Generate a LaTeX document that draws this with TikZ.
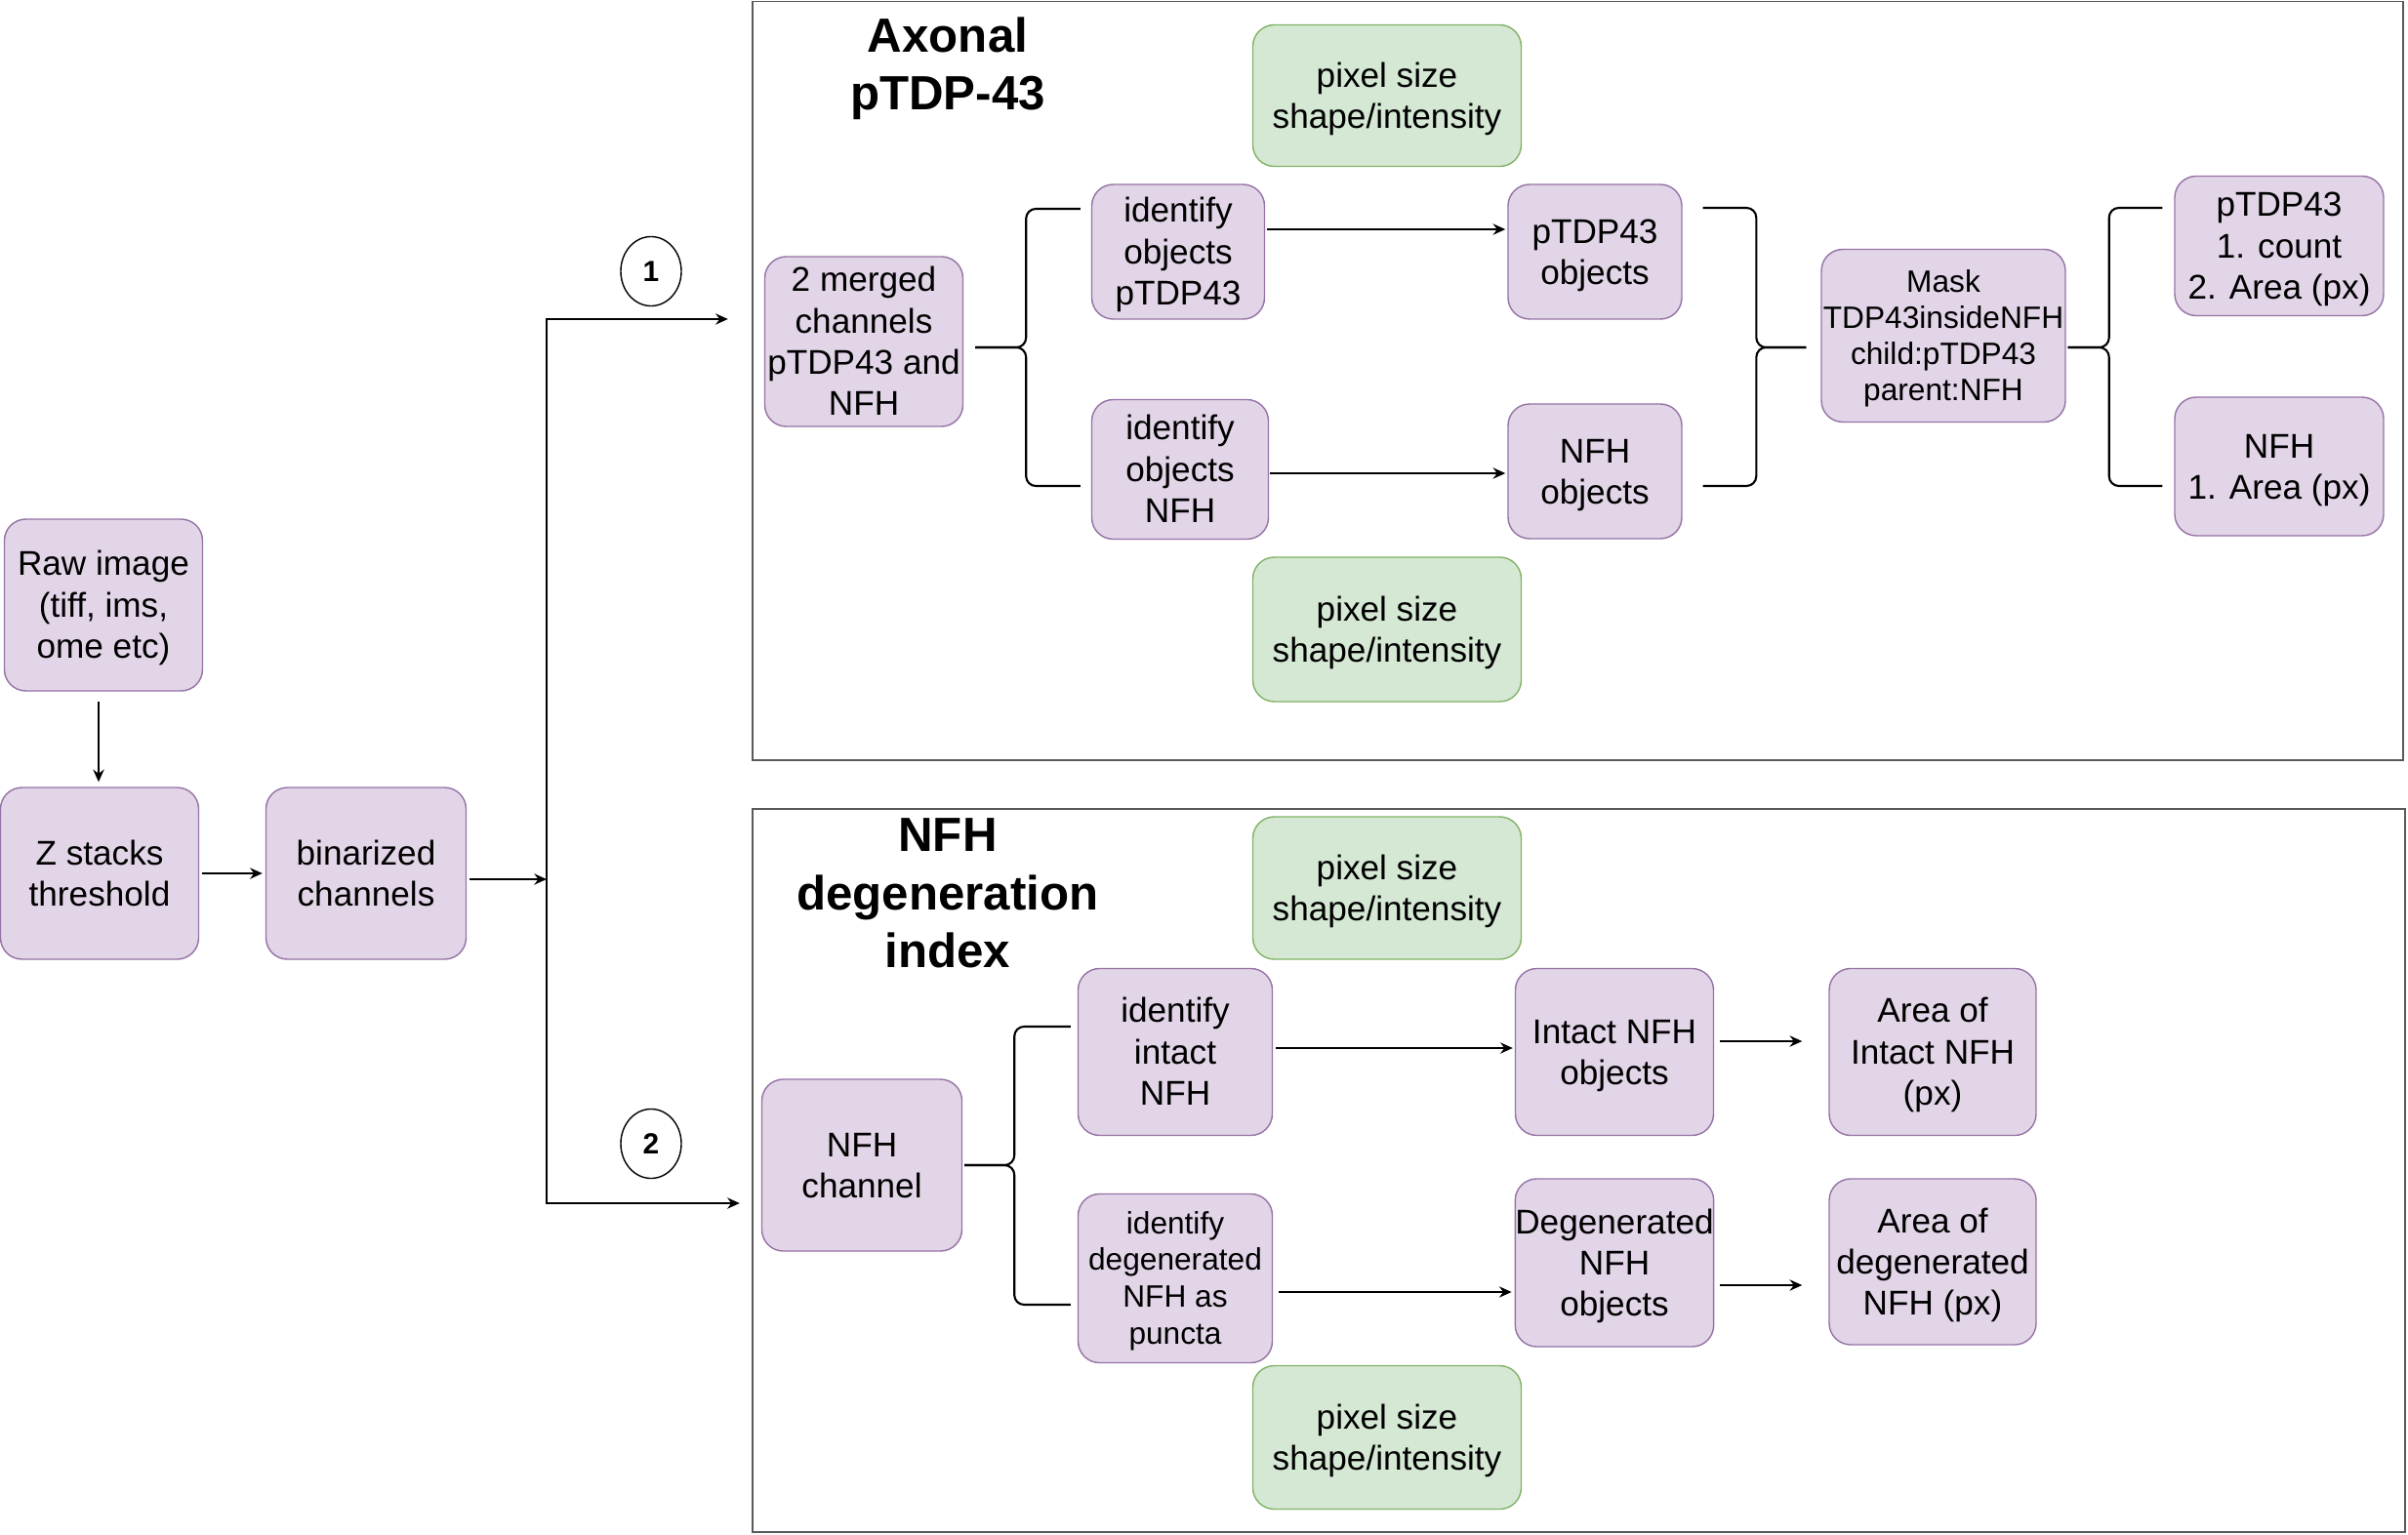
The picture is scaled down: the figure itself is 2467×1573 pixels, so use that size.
\documentclass[tikz,border=0pt]{standalone}
\usepackage{fontspec}
\setmainfont{Liberation Sans}
\usetikzlibrary{arrows.meta,calc,shapes.geometric}
\definecolor{pfill}{HTML}{E1D5E7}
\definecolor{pstroke}{HTML}{9673A6}
\definecolor{gfill}{HTML}{D5E8D4}
\definecolor{gstroke}{HTML}{82B366}
\tikzset{
  nl/.style={execute at begin node={\rule{0pt}{\dimexpr\baselineskip*\numexpr#1-1\relax+0.947em\relax}}, execute at end node={\rule[-0.254em]{0pt}{0pt}}},
  pbox/.style={draw=pstroke, fill=pfill, rounded corners=0.22cm, line width=0.4pt, align=center, inner sep=0pt, font=\fontsize{10}{12}\selectfont},
  gbox/.style={pbox, draw=gstroke, fill=gfill, nl=2},
  sz/.style 2 args={minimum width=#1*0.01cm, minimum height=#2*0.01cm},
  arr/.style={-{Stealth[length=3.6pt,width=3.2pt]}, line width=0.6pt},
  brace/.style={line width=0.6pt, rounded corners=0.1cm},
  panel/.style={draw=black!65, line width=0.5pt},
  title/.style={align=center, font=\bfseries\fontsize{14}{17}\selectfont},
  num/.style={draw, ellipse, line width=0.4pt, inner sep=0pt, minimum width=0.62cm, minimum height=0.71cm, font=\bfseries\fontsize{8.5}{10}\selectfont},
}
\begin{document}
\begin{tikzpicture}[x=0.01cm, y=-0.01cm]
\useasboundingbox (0,0) rectangle (2467,1573);
% panels
\draw[panel] (771,1.5) rectangle (2462,779);
\draw[panel] (771,829) rectangle (2464,1570);
\node[title, nl=2] (t1) at (971,66) {Axonal\\pTDP-43};
\node[title, nl=3] (t2) at (971,915) {NFH\\degeneration\\index};
% left
\node[pbox, nl=3, sz={203}{176}] (raw) at (106,620) {Raw image\\(tiff, ims,\\ome etc)};
\node[pbox, nl=2, sz={203}{176}] (zs) at (102,895) {Z stacks\\threshold};
\node[pbox, nl=2, sz={205}{176}] (bin) at (375,895) {binarized\\channels};
\coordinate (j) at (560,901);
\node[num] (c1) at (667,278) {1};
\node[num] (c2) at (667,1172) {2};
% top panel
\node[gbox, sz={275}{145}] (g1) at (1421,98) {pixel size\\shape/intensity};
\node[pbox, nl=4, sz={203}{174}] (mc) at (885,350) {2 merged\\channels\\pTDP43 and\\NFH};
\node[pbox, nl=3, sz={177}{138}] (ip) at (1207,258) {identify\\objects\\pTDP43};
\node[pbox, nl=3, sz={181}{143}] (idn) at (1209,481) {identify\\objects\\NFH};
\node[pbox, nl=2, sz={178}{138}] (po) at (1634,258) {pTDP43\\objects};
\node[pbox, nl=2, sz={178}{138}] (no) at (1634,483) {NFH\\objects};
\node[gbox, sz={275}{148}] (g2) at (1421,645) {pixel size\\shape/intensity};
\node[pbox, nl=4, sz={250}{177}, font=\fontsize{9}{10.5}\selectfont] (mk) at (1991,344) {Mask\\TDP43insideNFH\\child:pTDP43\\parent:NFH};
\node[pbox, nl=3, sz={214}{143}] (pc) at (2335,252) {pTDP43\\1. count\\2. Area (px)};
\node[pbox, nl=2, sz={214}{142}] (na) at (2335,478) {NFH\\1. Area (px)};
% bottom panel
\node[gbox, sz={275}{146}] (g3) at (1421,910) {pixel size\\shape/intensity};
\node[pbox, nl=2, sz={205}{176}] (nc) at (883,1194) {NFH\\channel};
\node[pbox, nl=3, sz={199}{171}] (ii) at (1204,1078) {identify\\intact\\NFH};
\node[pbox, nl=4, sz={199}{173}, font=\fontsize{9}{10.8}\selectfont] (id) at (1204,1310) {identify\\degenerated\\NFH as\\puncta};
\node[pbox, nl=2, sz={203}{171}] (io) at (1654,1078) {Intact NFH\\objects};
\node[pbox, nl=3, sz={203}{172}] (dno) at (1654,1294) {Degenerated\\NFH\\objects};
\node[pbox, nl=3, sz={212}{171}] (ai) at (1980,1078) {Area of\\Intact NFH\\(px)};
\node[pbox, nl=3, sz={212}{170}] (ad) at (1980,1293) {Area of\\degenerated\\NFH (px)};
\node[gbox, sz={275}{147}] (g4) at (1421,1473) {pixel size\\shape/intensity};
% left connectors
\draw[arr] ($(zs.north)+(-1,-87)$) -- ($(zs.north)+(-1,-5)$);
\draw[arr] ($(zs.east)+(3,0)$) -- ($(bin.west)+(-3,0)$);
\draw[arr] ($(bin.east)+(3,6)$) -- (j);
\draw[arr] (j) |- ($(mc.west)+(-37,-23)$);
\draw[arr] (j) |- ($(nc.west)+(-22,39)$);
% top connectors
\draw[brace] ($(ip.west)+(-11,-44)$) -| ($(mc.east)+(64,6)$) -- ($(mc.east)+(12,6)$);
\draw[brace] ($(idn.west)+(-11,17)$) -| ($(mc.east)+(64,6)$) -- ($(mc.east)+(12,6)$);
\draw[arr] ($(ip.east)+(2,-23)$) -- ($(po.west)+(-2,-23)$);
\draw[arr] ($(idn.east)+(1,4)$) -- ($(no.west)+(-2,2)$);
\draw[brace] ($(po.east)+(21,-45)$) -| ($(mk.west)+(-66,12)$) -- ($(mk.west)+(-15,12)$);
\draw[brace] ($(no.east)+(21,15)$) -| ($(mk.west)+(-66,12)$) -- ($(mk.west)+(-15,12)$);
\draw[brace] ($(pc.west)+(-12,-39)$) -| ($(mk.east)+(44,12)$) -- ($(mk.east)+(2,12)$);
\draw[brace] ($(na.west)+(-12,20)$) -| ($(mk.east)+(44,12)$) -- ($(mk.east)+(2,12)$);
% bottom connectors
\draw[brace] ($(ii.west)+(-7,-26)$) -| ($(nc.east)+(53,0)$) -- ($(nc.east)+(2,0)$);
\draw[brace] ($(id.west)+(-7,27)$) -| ($(nc.east)+(53,0)$) -- ($(nc.east)+(2,0)$);
\draw[arr] ($(ii.east)+(3,-4)$) -- ($(io.west)+(-2,-4)$);
\draw[arr] ($(id.east)+(6,14)$) -- ($(dno.west)+(-3,30)$);
\draw[arr] ($(io.east)+(6,-11)$) -- ($(ai.west)+(-27,-11)$);
\draw[arr] ($(dno.east)+(6,23)$) -- ($(ad.west)+(-27,24)$);
\end{tikzpicture}
\end{document}
